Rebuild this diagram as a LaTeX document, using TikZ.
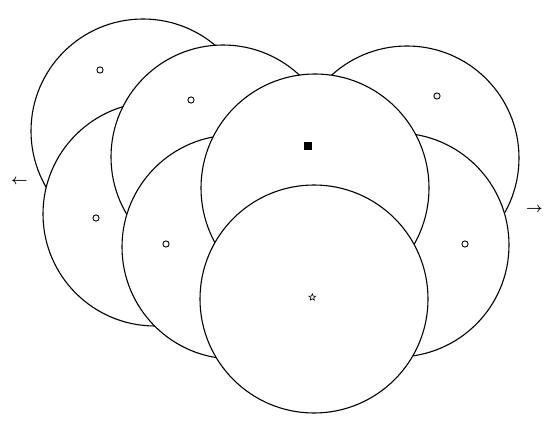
\documentclass[tikz,border=0pt]{standalone}
\usetikzlibrary{shapes.geometric}
\begin{document}
\begin{tikzpicture}[x=1pt,y=-1pt,
  disk/.style={circle,draw=black,fill=white,line width=1.1pt,inner sep=0pt,minimum size=224pt},
  bigdisk/.style={disk,minimum size=228pt},
  ring/.style={circle,draw=black,fill=white,line width=0.9pt,inner sep=0pt,minimum size=6.2pt},
  sqmark/.style={rectangle,fill=black,inner sep=0pt,minimum size=8pt},
  starmark/.style={star,star points=5,star point ratio=2.3,draw=black,line width=0.6pt,inner sep=0pt,minimum size=7pt},
  arrowtext/.style={inner sep=0pt,font=\fontsize{15}{15}\selectfont\boldmath}]
\useasboundingbox (0,0) rectangle (550,436);
\node[disk] (A) at (143,131) {};
\node[disk] (B) at (155,214) {};
\node[disk] (C) at (223,157) {};
\node[disk] (D) at (234,247) {};
\node[disk] (TR) at (407,158) {};
\node[disk] (RL) at (397,245) {};
\node[bigdisk] (TC) at (315,188) {};
\node[bigdisk] (S) at (314,299) {};
\node[ring] (a) at (100,70) {};
\node[ring] (b) at (96,218) {};
\node[ring] (c) at (191,100) {};
\node[ring] (d) at (166,244) {};
\node[ring] (tr) at (437,96) {};
\node[ring] (rl) at (465,244) {};
\node[sqmark] (tc) at (308,146.5) {};
\node[starmark] (s) at (312.3,297.3) {};
\node[arrowtext] (la) at (19.5,182) {$\leftarrow$};
\node[arrowtext] (ra) at (534.5,210) {$\rightarrow$};
\end{tikzpicture}
\end{document}
